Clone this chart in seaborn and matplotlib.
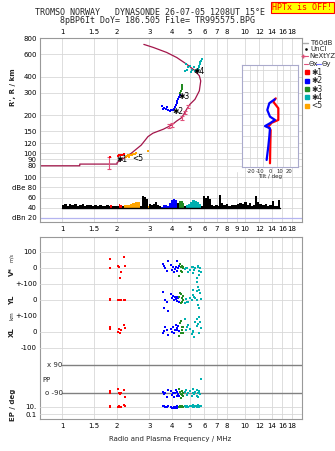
import numpy as np
import matplotlib
matplotlib.use("Agg")
import matplotlib.pyplot as plt
import seaborn as sns
from matplotlib.lines import Line2D
from matplotlib.ticker import NullLocator

# frequency ticks (MHz)
freq_ticks = [1, 1.5, 2, 3, 4, 5, 6, 7, 8, 10, 12, 14, 16, 18]
freq_ticks_mid = [1, 1.5, 2, 3, 4, 5, 6, 7, 8, 9, 10, 12, 14, 16, 18]
height_ticks = [80, 90, 100, 120, 150, 200, 300, 400, 600, 800]

# ionogram trace: virtual height (km) vs frequency (MHz)
trace_f = [0.753, 1.25, 1.25, 2.0, 2.0, 2.11, 2.39, 2.71, 2.95, 3.14, 3.58, 3.97, 4.24,
           4.51, 4.80, 5.00, 5.33, 5.63, 5.73, 5.63, 5.33, 4.80, 4.24, 3.73, 3.15, 2.80]
trace_h = [80, 80, 82.5, 82.5, 84.9, 89.3, 100.3, 116.3, 135.6, 144.2, 155, 167, 180,
           191, 222, 243, 266, 310, 371, 407, 446, 502, 566, 621, 680, 718]

# NeXtYZ profile points
nxt_f = [1.81, 3.86, 3.97, 4.53, 4.70, 4.89]
nxt_h = [85, 164, 167, 190, 209, 233]
nxt_err = [9, 5, 5, 6, 6, 7]

# echo traces in the ionogram
e1_f = [1.84, 2.02, 2.05, 2.09, 2.12, 2.17]
e1_h = [94, 96, 98, 97, 98, 99]
e2_f = [4.41, 4.36, 4.30, 4.27, 4.25, 4.19, 4.14, 4.09, 4.04, 3.52, 3.61, 3.70, 3.79, 3.89, 3.56, 3.74, 3.94]
e2_h = [290, 279, 269, 260, 251, 242, 233, 225, 221, 235, 229, 223, 219, 217, 225, 231, 219]
e3_f = [4.55, 4.52, 4.50, 4.47, 4.44]
e3_h = [347, 335, 323, 312, 300]
e4_f = [5.79, 5.75, 5.71, 5.67, 5.63, 5.60, 5.56, 5.53, 5.50, 4.76, 4.88, 5.00, 5.13, 5.26, 4.70, 4.82, 5.06, 5.33]
e4_h = [547, 532, 518, 504, 490, 477, 464, 456, 448, 504, 473, 490, 456, 473, 440, 448, 436, 444]
e5_f = [2.24, 2.27, 2.30, 2.35, 2.40, 2.45, 2.50, 2.55, 2.33, 2.95]
e5_h = [93.5, 96, 97.5, 96.5, 97.5, 98.5, 99.5, 100.5, 94.5, 104]

# tilt profiles (deg) vs height (km)
tiltx_h = [76, 150, 227, 242, 260, 273, 326, 356, 371]
tiltx_d = [0, 0.3, 0.7, -1.7, 1.7, 8.7, 8.7, 3.4, 6.0]
tilty_h = [91, 151, 197, 235, 245, 258, 273, 288, 318, 349, 367]
tilty_d = [-3.5, -1.8, -0.7, 0, -5.2, 0, 5.2, 0, -2.8, -0.7, 5.0]

# amplitude (dB) vs frequency, with echo group of each sample
amp_f = [1.00, 1.03, 1.06, 1.09, 1.12, 1.16, 1.20, 1.24, 1.28, 1.32, 1.36, 1.40, 1.45, 1.50,
         1.55, 1.60, 1.65, 1.70, 1.75, 1.80, 1.83, 1.87, 1.93, 2.00, 2.04, 2.08, 2.12, 2.18,
         2.26, 2.34, 2.42, 2.50, 2.58, 2.66, 2.72, 2.80, 2.88, 2.94, 3.00, 3.08, 3.16, 3.24,
         3.32, 3.40, 3.48, 3.56, 3.66, 3.76, 3.86, 3.96, 4.06, 4.16, 4.26, 4.36, 4.46, 4.56,
         4.66, 4.76, 4.88, 5.00, 5.12, 5.24, 5.36, 5.50, 5.64, 5.78, 5.92, 6.06, 6.20, 6.35,
         6.50, 6.70, 6.90, 7.10, 7.25, 7.40, 7.60, 7.85, 8.10, 8.40, 8.70, 9.00, 9.30, 9.60,
         9.90, 10.2, 10.5, 10.8, 11.1, 11.4, 11.7, 12.0, 12.4, 12.8, 13.2, 13.6, 14.0, 14.4,
         14.8, 15.2, 15.5]
amp_db = [45, 47, 44, 48, 45, 47, 44, 46, 47, 44, 46, 45, 43, 45,
          44, 46, 43, 44, 45, 43, 45, 44, 43, 43, 47, 46, 43, 45,
          46, 47, 50, 51, 52, 44, 62, 61, 58, 44, 47, 45, 48, 52,
          46, 44, 42, 46, 45, 43, 50, 56, 57, 55, 50, 53, 54, 50,
          44, 46, 48, 52, 55, 56, 54, 52, 48, 44, 62, 60, 63, 58,
          45, 43, 46, 44, 64, 50, 45, 47, 44, 46, 45, 47, 50, 48,
          52, 46, 49, 44, 45, 62, 52, 48, 45, 47, 44, 46, 53, 43,
          44, 55, 40]
amp_grp = ['k'] * 20 + ['1', 'k', 'k', 'k', '1', '1', 'k', '5', '5', '5', '5', '5', '5', 'k',
           'k', 'k', 'k', '5', 'k', 'k', 'k', 'k', 'k', 'k', '2', '2', '2', '2', '2', '2',
           '2', '2', 'k', '3', '3', '3', 'k', '4', '4', '4', '4', '4', '4', '4', '4'] + ['k'] * 36

# drift / polarisation per echo: freq, V* (m/s), YL, XL (km), PP (deg), EP (deg)
d1_f = [1.84, 1.84, 2.02, 2.05, 2.07, 2.09, 2.17, 2.20]
d1_v = [54, 2, 12, 6, -61, -23, 67, 14]
d1_yl = [5, 0, 0, 3, 0, -2, 2, 0]
d1_xl = [29, 19, 2, 17, -8, 10, 44, 23]
d1_pp = [-74, -90, -65, -86, -96, -90, -69, -111]
d1_ep = [16, 10, 10, 12, 10, 11, 28, 16]

d2_f = [3.55, 3.61, 3.65, 3.73, 3.81, 3.92, 3.97, 4.05, 4.09, 4.14, 4.20, 4.24, 4.27, 4.32, 4.38]
d2_v = [25, 10, -2, -17, 46, 19, -13, 8, -23, -8, 5, -17, 46, -2, 12]
d2_yl = [52, -52, 0, -10, -67, 37, 10, 25, 0, 17, 4, -4, 21, 10, -10]
d2_xl = [-8, 5, 29, 12, -19, 17, 2, 29, -4, 10, 44, 23, 15, 35, 8]
d2_pp = [-80, -95, -86, -111, -70, -75, -100, -85, -115, -90, -70, -105, -80, -95, -110]
d2_ep = [20, 12, 10, 8, 15, 10, 5, 4, 8, 5, 10, 4, 12, 8, 10]

d3_f = [4.36, 4.41, 4.45, 4.47, 4.51, 4.52, 4.56, 4.60]
d3_v = [-48, 25, -17, 8, 12, -23, -2, 5]
d3_yl = [20, 46, -21, 35, 10, -10, 25, 0]
d3_xl = [-25, 54, 71, -8, 29, 12, 30, -5]
d3_pp = [-65, -80, -95, -118, -75, -100, -85, -110]
d3_ep = [10, 12, 8, 10, 14, 9, 11, 10]

d4_f = [4.70, 4.76, 4.80, 4.89, 5.00, 5.11, 5.17, 5.21, 5.26, 5.33, 5.44, 5.48, 5.52, 5.56, 5.60, 5.63, 5.67, 5.72]
d4_v = [-8, 0, -2, -23, -13, 5, 8, -33, -10, -2, -90, -65, 10, 4, -20, -44, -2, -23]
d4_yl = [-17, 5, -10, -10, 10, 0, 30, 62, 20, 10, 0, 58, -30, 83, -52, 62, 42, 4]
d4_xl = [81, 10, 30, 44, 17, -15, 5, 2, -33, 64, 37, 79, 50, 117, -8, 92, 64, 23]
d4_pp = [-80, -70, -100, -90, -75, -110, -85, -65, -95, -80, -105, -70, -90, -115, -75, -85, -95, 1]
d4_ep = [12, 10, 16, 10, 20, 12, 10, 25, 8, 14, 12, 10, 16, 30, 10, 12, 20, 12]

echo_colors = {'1': '#ff0000', '2': '#0000ff', '3': '#228b22', '4': '#00b0b0', '5': '#ffa500', 'k': '#000000'}
TRACE = '#a3154a'
PINK = '#e0507a'
GRID = '#d8d8d8'
FRAME = '#999999'
FMIN, FMAX = 0.753, 20.5

sns.set_theme(style="white")
plt.rcParams['font.family'] = ['DejaVu Sans']
plt.rcParams['axes.unicode_minus'] = False

W, H = 335, 451
fig = plt.figure(figsize=(W / 100, H / 100), dpi=100)


def box(l, t, r, b):
    return [l / W, 1 - b / H, (r - l) / W, (b - t) / H]


def fx(x):
    return x / W


def fy(y):
    return 1 - y / H


def freq_axis(ax, ticks, spines=True):
    ax.set_xscale('log')
    ax.set_xlim(FMIN, FMAX)
    ax.set_xticks(ticks)
    ax.set_xticklabels([f'{t:g}' for t in ticks])
    ax.xaxis.set_minor_locator(NullLocator())
    ax.tick_params(length=0, labelsize=5, pad=2, colors='black')
    for s in ax.spines.values():
        s.set_color(FRAME)
        s.set_linewidth(0.8)
        s.set_visible(spines)


# ---------------- ionogram ----------------
ax_h = fig.add_axes(box(39.5, 38, 302, 172))
freq_axis(ax_h, freq_ticks)
ax_h.set_yscale('log')
ax_h.set_ylim(71.5, 806)
ax_h.set_yticks(height_ticks)
ax_h.set_yticklabels([str(t) for t in height_ticks])
ax_h.yaxis.set_minor_locator(NullLocator())
ax_h.xaxis.tick_top()
ax_h.spines['bottom'].set_visible(False)
ax_h.grid(True, color=GRID, lw=0.6)
ax_h.plot(trace_f, trace_h, color=TRACE, lw=0.9)
ax_h.errorbar(nxt_f, nxt_h, yerr=nxt_err, fmt='none', ecolor=PINK, elinewidth=0.8, capsize=1.3, capthick=0.8)
for fs, hs, g in [(e1_f, e1_h, '1'), (e5_f, e5_h, '5'), (e2_f, e2_h, '2'), (e3_f, e3_h, '3'), (e4_f, e4_h, '4')]:
    sns.scatterplot(x=fs, y=hs, ax=ax_h, marker='s', s=2.6, color=echo_colors[g], linewidth=0, zorder=3)
for lab, f, h in [('✱1', 2.13, 89.3), ('<5', 2.6, 90.5), ('✱2', 4.28, 214), ('✱3', 4.63, 281), ('✱4', 5.62, 440)]:
    ax_h.text(f, h, lab, fontsize=5.5, ha='center', va='center', color='black', zorder=4)

# ---------------- amplitude ----------------
ax_a = fig.add_axes(box(39.5, 172, 302, 222))
freq_axis(ax_a, freq_ticks_mid)
ax_a.set_ylim(11.5, 110.5)
ax_a.set_yticks([20, 40, 60, 80, 100])
ax_a.set_yticklabels(['dBn 20', '40', '60', 'dBe 80', '100'])
ax_a.tick_params(axis='x', pad=3.2)
ax_a.spines['top'].set_visible(False)
ax_a.grid(True, color=GRID, lw=0.6)
ax_a.axhline(20, color='#b4b4f0', lw=0.9)
af = np.array(amp_f)
av = np.array(amp_db)
ag = np.array(amp_grp)
ax_a.fill_between(af, 40, av, step='post', color='black', lw=0)
for g in ['1', '2', '3', '4', '5']:
    m = ag == g
    m = m | np.concatenate([[False], m[:-1]])
    ax_a.fill_between(af, 40, av, where=m, step='post', color=echo_colors[g], lw=0)
ax_a.plot([af[0], af[-1]], [40, 40], color='black', lw=1)

# ---------------- drift / polarisation frame ----------------
ax_v = fig.add_axes(box(39.5, 236.7, 302, 419.3))
freq_axis(ax_v, freq_ticks)
ax_v.set_yticks([])
ax_v.tick_params(axis='x', pad=2.4)
ax_v.grid(True, axis='x', color=GRID, lw=0.6)


def row(top, bottom, ylim, ticks, labels, log=False):
    ax = fig.add_axes(box(39.5, top, 302, bottom))
    freq_axis(ax, freq_ticks, spines=False)
    ax.set_xticks([])
    ax.patch.set_alpha(0)
    if log:
        ax.set_yscale('log')
        ax.yaxis.set_minor_locator(NullLocator())
    ax.set_ylim(*ylim)
    ax.set_yticks(ticks)
    ax.set_yticklabels(labels)
    ax.grid(True, axis='y', color=GRID, lw=0.6)
    return ax


ax_vs = row(236.7, 284, (-100, 195.6), [100, 0], ['100', '0'])
ax_yl = row(284, 316, (-100, 100), [100, 0, -100], ['+-100', '0', '+-100'])
ax_xl = row(316, 355, (-143.75, 100), [0, -100], ['0', '-100'])
ax_pp = row(355, 400, (-132.6, 153.6), [], [])
ax_ep = row(400, 419.3, (0.0036, 684), [10, 0.1], ['10.', '0.1'], log=True)

ax_pp.plot([1, FMAX], [90, 90], color='#808080', lw=1)
ax_pp.plot([1, FMAX], [-90, -90], color='#808080', lw=1)
ax_pp.text(0.906, 90, 'x 90', fontsize=5, ha='center', va='center')
ax_pp.text(0.906, -90, 'o -90', fontsize=5, ha='center', va='center')
ax_pp.text(0.82, -5, 'PP', fontsize=5, ha='center', va='center')

drift = [('1', d1_f, d1_v, d1_yl, d1_xl, d1_pp, d1_ep),
         ('2', d2_f, d2_v, d2_yl, d2_xl, d2_pp, d2_ep),
         ('3', d3_f, d3_v, d3_yl, d3_xl, d3_pp, d3_ep),
         ('4', d4_f, d4_v, d4_yl, d4_xl, d4_pp, d4_ep)]
for g, f, v, yl, xl, pp, ep in drift:
    for ax, vals in [(ax_vs, v), (ax_yl, yl), (ax_xl, xl), (ax_pp, pp), (ax_ep, ep)]:
        sns.scatterplot(x=f, y=vals, ax=ax, marker='s', s=3.2, color=echo_colors[g], linewidth=0, zorder=3)

# ---------------- tilt inset ----------------
ax_t = fig.add_axes(box(241.7, 65, 297.7, 167.3))
ax_t.set_facecolor('white')
ax_t.set_xlim(-29.5, 28.9)
ax_t.set_ylim(57.7, 522.7)
ax_t.set_xticks([-20, -10, 0, 10, 20])
ax_t.set_xticklabels(['-20', '-10', '0', '10', '20'])
ax_t.set_xticks([-21, -14, -7, 0, 7, 14, 21], minor=True)
ax_t.set_yticks(list(range(100, 501, 50)))
ax_t.set_yticklabels([])
ax_t.grid(True, which='minor', axis='x', color=GRID, lw=0.6)
ax_t.grid(True, which='major', axis='y', color=GRID, lw=0.6)
ax_t.tick_params(which='both', length=0, labelsize=3.8, pad=1)
ax_t.set_xlabel('Tilt / deg', fontsize=4, labelpad=0.5)
for s in ax_t.spines.values():
    s.set_color('#aaaacc')
    s.set_linewidth(0.8)
sns.lineplot(x=tiltx_d, y=tiltx_h, ax=ax_t, sort=False, estimator=None, color='#ff0000', lw=1.6)
sns.lineplot(x=tilty_d, y=tilty_h, ax=ax_t, sort=False, estimator=None, color='#0000ff', lw=1.6)

# ---------------- texts ----------------
mono = 'DejaVu Sans Mono'
fig.text(fx(150), fy(12.7), 'TROMSO NORWAY   DYNASONDE 26-07-05 1208UT 15°E', family=mono, fontsize=6,
         ha='center', va='center')
fig.text(fx(157.5), fy(20.3), '8pBP6It DoY= 186.505 File= TR995575.BPG', family=mono, fontsize=6,
         ha='center', va='center')
fig.text(fx(302.5), fy(7.3), 'HPTx is OFF!', family=mono, fontsize=6, color='red', ha='center', va='center',
         bbox=dict(boxstyle='square,pad=0.15', fc='#ffff00', ec='red', lw=0.8))

fig.text(fx(13), fy(87), "R', R / km", rotation=90, fontsize=5, weight='bold', ha='center', va='center')
fig.text(fx(11.7), fy(272), 'V*', rotation=90, fontsize=5, weight='bold', ha='center', va='center')
fig.text(fx(11.7), fy(257), 'm/s', rotation=90, fontsize=3.5, ha='center', va='center')
fig.text(fx(11.7), fy(300), 'YL', rotation=90, fontsize=5, weight='bold', ha='center', va='center')
fig.text(fx(11.7), fy(316), 'km', rotation=90, fontsize=4, ha='center', va='center')
fig.text(fx(11.7), fy(332), 'XL', rotation=90, fontsize=5, weight='bold', ha='center', va='center')
fig.text(fx(13), fy(405), 'EP / deg', rotation=90, fontsize=5, weight='bold', ha='center', va='center')
fig.text(fx(170), fy(439), 'Radio and Plasma Frequency / MHz', fontsize=5, ha='center', va='center')

# legend
fig.add_artist(Line2D([fx(303.3), fx(308.3)], [fy(43.3)] * 2, color='#aaaaaa', lw=1))
fig.text(fx(310), fy(43.3), 'T60dB', fontsize=5, va='center')
fig.add_artist(Line2D([fx(306)], [fy(49.3)], marker='s', ms=0.8, color='black', lw=0))
fig.text(fx(310), fy(49.3), 'UnCl', fontsize=5, va='center')
fig.add_artist(Line2D([fx(303.3), fx(308.3)], [fy(55.5)] * 2, color=PINK, lw=0.8, marker='+', ms=3,
                      markevery=[0]))
fig.text(fx(309.3), fy(55.5), 'NeXtYZ', fontsize=5, va='center')
fig.add_artist(Line2D([fx(303.5), fx(308)], [fy(63.5)] * 2, color=PINK, lw=0.8))
fig.text(fx(308.2), fy(63.5), 'Θx', fontsize=5, va='center')
fig.add_artist(Line2D([fx(315.8), fx(321)], [fy(63.5)] * 2, color='#7070ff', lw=0.8))
fig.text(fx(321.2), fy(63.5), 'Θy', fontsize=5, va='center')
for lab, g, y in [('✱1', '1', 72.3), ('✱2', '2', 80.8), ('✱3', '3', 89.3), ('✱4', '4', 97.3), ('<5', '5', 105.7)]:
    fig.add_artist(Line2D([fx(307.3)], [fy(y)], marker='s', ms=2.6, color=echo_colors[g], lw=0))
    fig.text(fx(311), fy(y), lab, fontsize=5.5, va='center')

fig.savefig('out.png', dpi=100)
